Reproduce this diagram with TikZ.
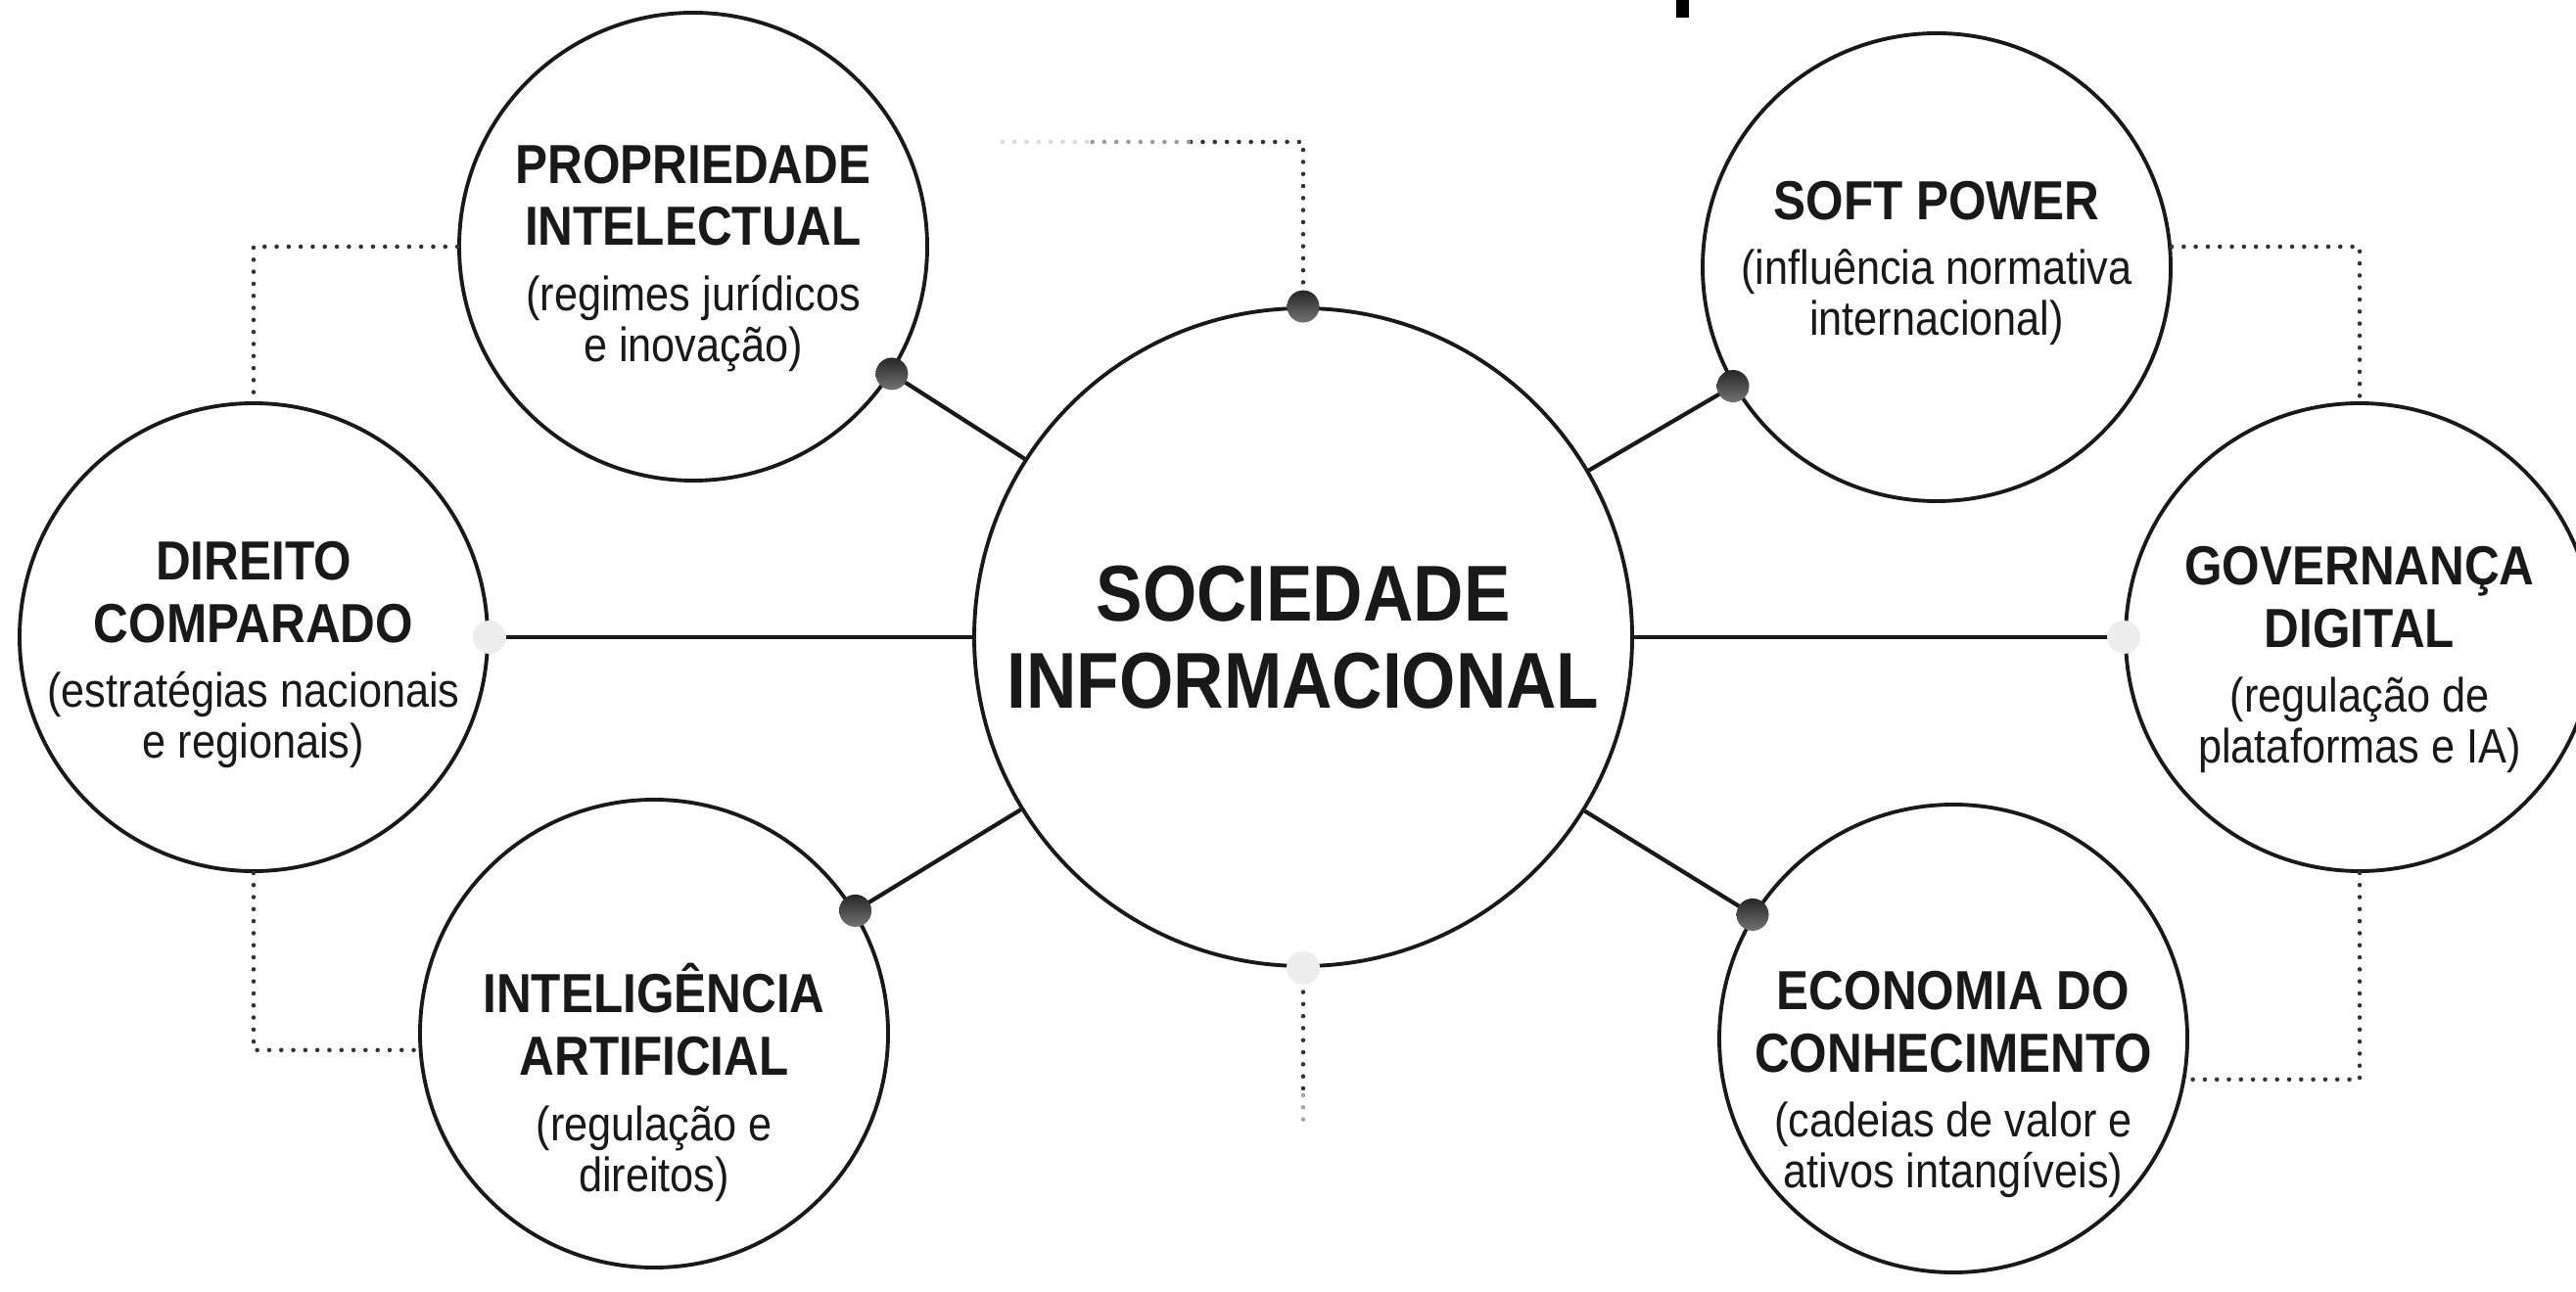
\documentclass[tikz,border=0pt]{standalone}
\usepackage{fontspec}
\setmainfont{Liberation Sans}[FakeStretch=0.88]
\newcommand{\ttl}{\fontsize{16}{18.2}\bfseries\selectfont}
\newcommand{\sub}{\fontsize{14}{15}\mdseries\selectfont}
\newcommand{\hubf}{\fontsize{23}{25.3}\bfseries\selectfont}
\tikzset{
	hub/.style={circle, draw=black!90, line width=1.1pt, fill=white, minimum size=6.72cm, inner sep=0pt},
	topic/.style={circle, draw=black!90, line width=1.1pt, fill=white, minimum size=4.78cm, inner sep=0pt},
	txt/.style={align=center, inner sep=0pt, text=black!90, font=\ttl},
	link/.style={line width=1.2pt, black!90},
	dots/.style={line width=1.3pt, line cap=round, dash pattern=on 0pt off 3.5pt, black!80},
	knob/.style={circle, inner sep=0pt, minimum size=0.33cm, top color=black!85, bottom color=black!55},
	ghost/.style={circle, inner sep=0pt, minimum size=0.34cm, fill=black!7}
}
\begin{document}
\begin{tikzpicture}
		\useasboundingbox (0,0) rectangle (26.31,13.19);
		\fill [black] (17.12,13.01) rectangle (17.25,13.25);
		% circles
		\node [hub] (soc) at (13.31,6.68) {};
		\foreach \n/\x/\y in {dir/2.59/6.68, prop/7.08/10.67, intel/6.68/2.63, soft/19.78/10.46, gov/24.10/6.68, econ/19.95/2.58}
			\node [topic] (\n) at (\x,\y) {};

		% texts
		\node [txt, font=\hubf] (soc-t) at (soc) {{\hubf SOCIEDADE}\\{\hubf INFORMACIONAL}};
		\node [txt] (prop-t) at ([yshift=-0.12cm]prop) {{\ttl PROPRIEDADE}\\{\ttl INTELECTUAL}\\[0.8pt]{\sub (regimes jurídicos}\\[-3.4pt]{\sub e inovação)}};
		\node [txt] (dir-t) at ([yshift=-0.18cm]dir) {{\ttl DIREITO}\\{\ttl COMPARADO}\\[0.8pt]{\sub (estratégias nacionais}\\[-3.4pt]{\sub e regionais)}};
		\node [txt] (intel-t) at ([yshift=-0.5cm]intel) {{\ttl INTELIGÊNCIA}\\{\ttl ARTIFICIAL}\\[0.8pt]{\sub (regulação e}\\[-3.4pt]{\sub direitos)}};
		\node [txt] (soft-t) at ([yshift=0.04cm]soft) {{\ttl SOFT POWER}\\[0.8pt]{\sub (influência normativa}\\[-3.4pt]{\sub internacional)}};
		\node [txt] (gov-t) at ([yshift=-0.23cm]gov) {{\ttl GOVERNANÇA}\\{\ttl DIGITAL}\\[0.8pt]{\sub (regulação de}\\[-3.4pt]{\sub plataformas e IA)}};
		\node [txt] (econ-t) at ([yshift=-0.47cm]econ) {{\ttl ECONOMIA DO}\\{\ttl CONHECIMENTO}\\[0.8pt]{\sub (cadeias de valor e}\\[-3.4pt]{\sub ativos intangíveis)}};

		% dotted frame
		\coordinate (tc) at (13.31,11.74);
		\coordinate (tl) at (12.14,11.74);
		\coordinate (tm) at (11.10,11.74);
		\coordinate (tf) at (10.22,11.74);
		\coordinate (bc) at (13.31,2.00);
		\coordinate (bf) at (13.31,1.69);
		\draw [dots] (soc.north) -- (tc) -- (tl);
		\draw [dots, black!40] (tl) -- (tm);
		\draw [dots, black!15] (tm) -- (tf);
		\draw [dots] (soc.south) -- (bc);
		\draw [dots, black!35] (bc) -- (bf);
		\draw [dots] (prop.west) -| (dir.north);
		\draw [dots] (soft.5) -| (gov.north);
		\draw [dots] (dir.south) |- (intel.184);
		\draw [dots] (gov.south) |- (econ.-10);

		% links
		\foreach \n in {prop, soft, intel, econ}
			\draw [link] (\n) -- (soc) node [pos=0, knob] (\n-k) {};
		\foreach \n in {dir, gov}
			\draw [link] (\n) -- (soc) node [pos=0, ghost] (\n-g) {};
		\node [knob] (soc-k) at (soc.north) {};
		\node [ghost] (soc-g) at (soc.south) {};
	\end{tikzpicture}
\end{document}
